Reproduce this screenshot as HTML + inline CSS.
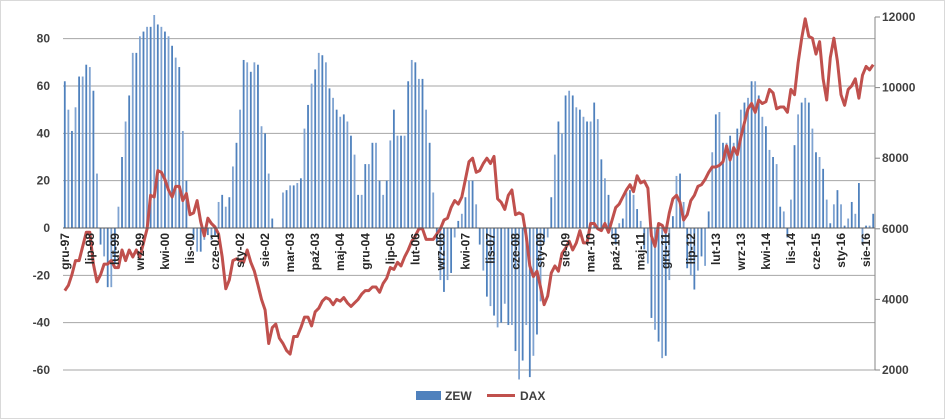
<!DOCTYPE html>
<html><head><meta charset="utf-8"><style>
html,body{margin:0;padding:0;background:#fff}
svg{display:block;font-family:"Liberation Sans",sans-serif}
</style></head><body>
<svg id="chart" width="945" height="419" viewBox="0 0 945 419" xmlns="http://www.w3.org/2000/svg">
<rect x="0.5" y="0.5" width="944" height="418" fill="#fff" stroke="#d9d9d9"/>
<g id="grid"></g><g id="bars"></g><g id="line"></g><g id="axes"></g>
<g>
<rect x="416" y="391" width="25" height="9" fill="#4f81bd"/>
<text x="445" y="400" font-size="12" font-weight="bold" fill="#404040">ZEW</text>
<line x1="487" y1="395.5" x2="515" y2="395.5" stroke="#c0504d" stroke-width="3"/>
<text x="520" y="400" font-size="12" font-weight="bold" fill="#404040">DAX</text>
</g>
</svg>
<script>
const startYear = 1997, startMonth = 11; // Dec 1997
const monthNames = ["sty","lut","mar","kwi","maj","cze","lip","sie","wrz","paź","lis","gru"];
const leftTicks = [-60,-40,-20,0,20,40,60,80];
const rightTicks = [2000,4000,6000,8000,10000,12000];
const zew = [62,
50,41,51,64,64,69,68,58,23,-7,-12,-25,
-25,-15,9,30,45,56,74,74,81,83,85,85,
90,86,85,83,81,77,72,68,41,20,0,-5,
-10,-10,-5,-3,-5,-3,11,14,9,13,26,36,
50,71,70,66,70,69,43,40,23,4,0,0,
15,16,18,18,19,21,42,52,61,67,74,73,
70,59,55,50,47,48,45,39,31,14,14,27,
27,36,36,20,14,20,37,50,39,39,39,62,
71,70,63,63,50,36,15,-6,-22,-27,-22,-19,
-4,3,6,13,20,20,10,-7,-18,-29,-33,-37,
-42,-40,-32,-41,-41,-52,-64,-56,-41,-63,-54,-45,
-31,-6,-4,13,31,45,40,56,58,56,51,50,
47,45,45,53,46,29,21,14,-4,-7,2,4,
15,16,14,8,3,-9,-15,-38,-43,-48,-55,-54,
-22,5,22,23,11,-17,-20,-26,-18,-12,-16,7,
32,48,49,36,36,39,36,42,50,53,55,62,
62,56,47,43,33,30,27,9,7,-4,12,35,
48,53,55,53,42,32,30,25,12,2,10,16,
10,1,4,11,6,19,-7,1,1,6];
const dax = [4250,
4400,4700,5100,5100,5500,5900,5900,5000,4500,4700,5000,5000,
5100,4900,4900,5400,5100,5400,5200,5400,5200,5600,6000,6950,
6900,7650,7600,7400,7100,6900,7200,7200,6800,7000,6400,6450,
6800,6200,5800,6300,6150,6050,5850,5200,4300,4550,5100,5150,
5100,5050,5400,5050,4800,4400,4000,3700,2750,3200,3300,2900,
2750,2550,2450,2950,2950,3200,3500,3500,3250,3650,3750,3950,
4050,4000,3850,4000,3950,4050,3900,3800,3900,4000,4150,4250,
4250,4350,4350,4200,4450,4600,4900,4850,5050,4950,5200,5400,
5650,5800,6000,6000,5700,5700,5700,5850,6000,6250,6300,6600,
6800,6700,6900,7400,7900,8000,7600,7650,7850,8000,7850,8050,
6850,6750,6550,6950,7100,6400,6450,6400,5800,4950,4650,4800,
4350,3850,4100,4750,4950,4800,5300,5450,5650,5400,5600,5950,
5600,5600,6150,6150,6000,5950,6150,5900,6250,6600,6700,6900,
7100,7250,7050,7500,7300,7350,7150,5800,5500,6150,6100,5900,
6450,6850,6950,6750,6250,6400,6800,6950,7200,7250,7400,7600,
7750,7750,7800,7900,8350,7950,8300,8100,8600,9000,9400,9550,
9300,9650,9550,9600,9950,9850,9400,9450,9450,9300,9950,9800,
10700,11400,11950,11450,11400,10950,11300,10250,9650,10850,11400,10750,
9800,9500,9950,10050,10250,9700,10350,10600,10500,10650];

const NS="http://www.w3.org/2000/svg";
const x0=63,x1=875,yTop=17,yBot=370;
const n=zew.length, bw=(x1-x0)/n;
const yL=v=>228-(v)*(370-228)/60;
const yR=v=>yBot-(v-2000)/10000*(yBot-yTop);
const xC=i=>x0+(i+0.5)*bw;
function mk(tag,attrs,parent){const e=document.createElementNS(NS,tag);for(const k in attrs)e.setAttribute(k,attrs[k]);parent.appendChild(e);return e;}
const grid=document.getElementById('grid'),bars=document.getElementById('bars'),line=document.getElementById('line'),axes=document.getElementById('axes');
leftTicks.forEach(t=>{
 if(t!==0){const g=mk('line',{x1:x0,x2:x1,y1:yL(t),y2:yL(t),stroke:'#a6a6a6','stroke-width':1},grid);
 
 }
 const tx=mk('text',{x:50,y:yL(t)+4,'text-anchor':'end','font-size':12,'font-weight':'bold',fill:'#404040'},axes);
 tx.textContent=t;
 
 
});
rightTicks.forEach(t=>{
 const tk=mk('line',{x1:x1,x2:x1+5,y1:yR(t),y2:yR(t),stroke:'#868686'},axes);
 
 
 const tx=mk('text',{x:882,y:yR(t)+4,'font-size':12,'font-weight':'bold',fill:'#404040'},axes);
 tx.textContent=t;
 
 
});
zew.forEach((v,i)=>{
 const y=Math.min(yL(v),yL(0)),h=Math.abs(yL(v)-yL(0));
 const r=mk('rect',{x:xC(i)-0.9,y:y,width:1.8,height:h,fill:i%2?'#7fa3d1':'#4f81bd'},bars);
 
 
});
const pts=dax.map((v,i)=>xC(i).toFixed(1)+','+yR(v).toFixed(1)).join(' ');
const pl=mk('polyline',{points:pts,fill:'none',stroke:'#c0504d','stroke-width':3,'stroke-linejoin':'round'},line);


const za=mk('line',{x1:x0,x2:x1,y1:yL(0),y2:yL(0),stroke:'#595959','stroke-width':1},axes);


const ra=mk('line',{x1:x1,x2:x1,y1:yTop,y2:yBot,stroke:'#868686'},axes);


for(let i=0;i<n;i+=7){
 const m=(startMonth+i)%12, yr=startYear+Math.floor((startMonth+i)/12);
 const x=xC(i)+4;
 const tx=mk('text',{x:x,y:233,'text-anchor':'end','font-size':12,'font-weight':'bold',fill:'#262626',transform:'rotate(-90 '+x+' 233)'},axes);
 tx.textContent=monthNames[m]+'-'+String(yr%100).padStart(2,'0');
 
 
}
</script>
</body></html>
